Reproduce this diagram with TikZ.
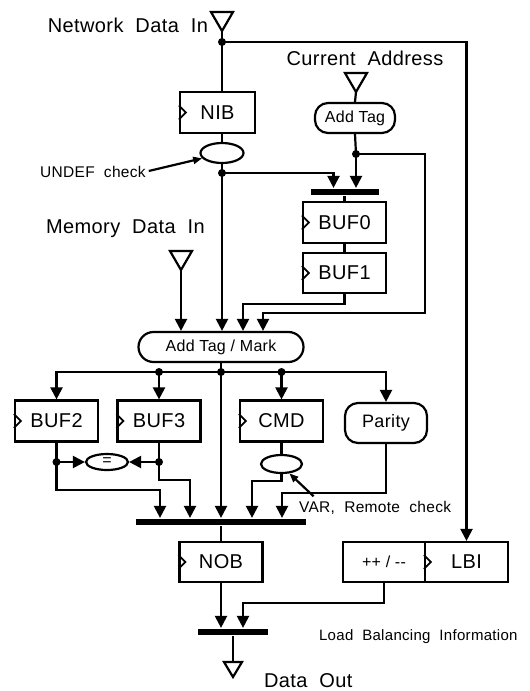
\documentclass[tikz,border=0pt]{standalone}
\usepackage{fontspec}
\setmainfont{Liberation Sans}[LetterSpace=2]
\newfontfamily\widefont{Liberation Sans}[LetterSpace=2,WordSpace=2]
\usetikzlibrary{arrows.meta,shapes.geometric,calc}

\begin{document}
\begin{tikzpicture}[x=1pt,y=-1pt,line width=2.2pt,
  reg/.style={draw,rectangle,minimum width=83pt,minimum height=41pt,inner sep=0pt,font=\fontsize{20}{22}\selectfont},
  rbox/.style={draw,rectangle,rounded corners=13pt,minimum height=30pt,inner sep=0pt,font=\fontsize{16}{18}\selectfont},
  chk/.style={draw,ellipse,minimum width=43pt,minimum height=20pt,inner sep=0pt,font=\fontsize{16}{16}\selectfont},
  bar/.style={fill=black,inner sep=0pt,minimum height=6pt},
  lbl/.style={font=\widefont\fontsize{20}{22}\selectfont,inner sep=0pt},
  note/.style={font=\widefont\fontsize{15.5}{18}\selectfont,inner sep=0pt},
  arr/.style={-{Triangle[length=12pt,width=12pt]}},
  ann/.style={-{Triangle[length=9pt,width=7pt]},shorten <=2pt}]

\useasboundingbox (0,0) rectangle (530,691);

%-------------------------------------------------------------------
% Inputs / output
\coordinate (netin) at (222,31);
\coordinate (curin) at (356,92);
\coordinate (memin) at (181,270);
\coordinate (dout) at (233,662);
\node[lbl,anchor=base east] (netlbl) at (209,32) {Network Data In};
\node[lbl,anchor=base] (curlbl) at (365,65) {Current Address};
\node[lbl,anchor=base west] (memlbl) at (45,233) {Memory Data In};
\node[lbl,anchor=base west] (outlbl) at (263,687) {Data Out};

\foreach \t in {netin,curin,memin}{
    \draw (\t) -- ++(-11,-19) -- ++(22,0) -- cycle;}
\draw ([xshift=-9pt]dout) -- ++(18,0) -- ++(-9,15) -- cycle;

% Registers
\node[reg,minimum width=75pt] (nib) at (217.5,112.5) {NIB};
\node[reg] (buf0) at (344.5,222.5) {BUF0};
\node[reg,minimum height=40pt] (buf1) at (344.5,273) {BUF1};
\node[reg] (buf2) at (56.5,421) {BUF2};
\node[reg] (buf3) at (159,421) {BUF3};
\node[reg] (cmd) at (281.5,421) {CMD};
\node[reg,minimum height=40pt] (nob) at (221,562) {NOB};
\node[reg,minimum width=82pt,minimum height=40pt,font=\fontsize{16}{18}\selectfont] (pm) at (384,562) {++ / {-}{-}};
\node[reg,minimum height=40pt] (lbi) at (466.5,562) {LBI};

% Clock marks
\foreach \r in {nib,buf0,buf1,buf2,buf3,cmd,nob,lbi}{
    \draw[line width=1.8pt] ([yshift=7pt]\r.west) -- ++(7,7) -- ++(-7,7);}

% Tag units
\node[rbox,minimum width=80pt] (addtag) at (355,118) {Add Tag};
\node[rbox,minimum width=165pt,rounded corners=15pt] (addmark) at (221,347) {Add Tag / Mark};
\node[rbox,minimum width=82pt,minimum height=40pt,font=\fontsize{18}{20}\selectfont] (parity) at (386,423) {Parity};

% Checks
\node[chk] (ucheck) at (222,153) {};
\node[chk,minimum width=42pt,minimum height=16pt] (eq) at (107,462) {=};
\node[chk,minimum width=41pt,minimum height=18pt] (vcheck) at (281.5,464) {};

% Merge bars
\node[bar,minimum width=68pt] (bar0) at (344.5,192) {};
\node[bar,minimum width=170pt] (bar1) at (221,522) {};
\node[bar,minimum width=70pt] (bar2) at (233,632) {};

% Notes
\node[note,anchor=base west] (undef) at (39,177) {UNDEF check};
\node[note,anchor=base west] (var) at (298,512) {VAR, Remote check};
\node[note,font=\widefont\fontsize{15}{18}\selectfont,anchor=base west] (lbinfo) at (318,640) {Load Balancing Information};

% Junctions
\coordinate (ndot) at (222,42);
\coordinate (udot) at (222,173);
\coordinate (adot) at (356,154);
\coordinate (bdot) at (221,372);
\coordinate (b3dot) at (159,372);
\coordinate (cdot) at (281.5,372);
\coordinate (e2dot) at (56.5,462);
\coordinate (e3dot) at (159,462);

%-------------------------------------------------------------------
% Upper half
\draw (netin) -- (ndot) -- (nib.north -| ndot);
\draw[arr] (ndot) -| (lbi);
\draw (ucheck.north) -- (ucheck.north |- nib.south);
\draw (ucheck.south) -- (udot);
\draw[arr] (udot) -| ([xshift=-11pt]bar0.north);
\draw (curin) -- (addtag.north);
\draw (addtag.south) -- (adot);
\draw[arr] (adot) -- (adot |- bar0.north);
\draw[arr] (adot) -| (425,313) -| ([xshift=42pt]addmark.north);
\draw (bar0) -- (buf0);
\draw (buf0) -- (buf1);
\draw[arr] (buf1.south) -- ++(0,10) -| ([xshift=22pt]addmark.north);
\draw[arr] (memin) -- (memin |- addmark.north);
\draw[arr] (udot) -- (udot |- addmark.north);

% Lower half
\draw (addmark.south) -- (bdot);
\draw[arr] (bdot) -| (buf2);
\draw[arr] (bdot) -| (parity);
\draw[arr] (b3dot) -- (buf3);
\draw[arr] (cdot) -- (cmd);
\draw[arr] (bdot) -- (bdot |- bar1.north);
\draw (buf2.south) -- (e2dot);
\draw (buf3.south) -- (e3dot);
\draw[arr] (e2dot) -- (eq.west);
\draw[arr] (e3dot) -- (eq.east);
\draw[arr] (e2dot) |- ([xshift=-61pt]bar1.north |- 0,490) -- ([xshift=-61pt]bar1.north);
\draw[arr] (e3dot) |- ([xshift=-31pt]bar1.north |- 0,480) -- ([xshift=-31pt]bar1.north);
\draw (cmd) -- (vcheck);
\draw[arr] (vcheck.south) -- ++(0,7) -| ([xshift=31pt]bar1.north);
\draw[arr] (parity.south) -- ++(0,49) -| ([xshift=61pt]bar1.north);
\draw (bar1) -- (nob);
\draw[arr] (nob) -- (nob |- bar2.north);
\draw[arr] (pm.south) -- ++(0,20) -| ([xshift=10pt]bar2.north);
\draw (bar2) -- (dout);

% Note pointers
\draw[ann] (undef.east) -- (ucheck.195);
\draw[ann] ([xshift=17pt,yshift=2pt]var.north west) -- (vcheck.-50);

\foreach \d in {ndot,udot,adot,bdot,b3dot,cdot,e2dot,e3dot}{
    \fill (\d) circle (4pt);}

\end{tikzpicture}
\end{document}
